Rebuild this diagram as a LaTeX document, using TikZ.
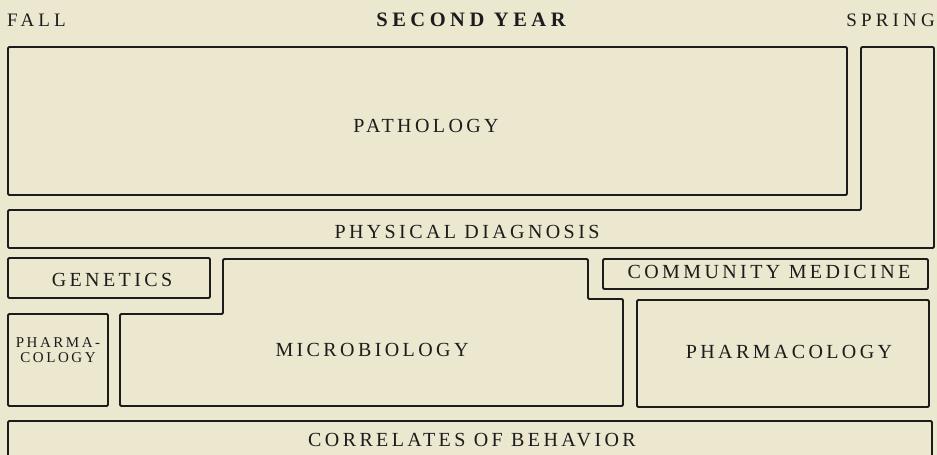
\documentclass[tikz,border=0pt]{standalone}
\usepackage{fontspec}
\setmainfont{Liberation Serif}
\newfontfamily\lbfont[LetterSpace=17]{Liberation Serif}
\newfontfamily\hdfont[LetterSpace=22]{Liberation Serif}
\definecolor{paper}{HTML}{ECE7CF}
\definecolor{ink}{HTML}{1C1C1C}
\tikzset{
  box/.style={draw=ink, line width=1.9pt, rounded corners=1.2pt},
  lbl/.style={text=ink, inner sep=0pt, font=\lbfont\fontsize{20}{22}\selectfont},
  hdr/.style={text=ink, inner sep=0pt, font=\hdfont\fontsize{19}{22}\selectfont},
}
\begin{document}
\begin{tikzpicture}[x=1pt,y=-1pt]
\fill[paper] (0,0) rectangle (937,455);
\useasboundingbox (0,0) rectangle (937,455);
\clip (0,0) rectangle (937,455);
% headers
\node[hdr, anchor=west] (fall) at (7,20) {FALL};
\node[hdr, font=\hdfont\bfseries\fontsize{20.5}{22}\selectfont] (title) at (471,20) {SECOND YEAR};
\node[hdr, anchor=east] (spring) at (935,20) {SPRING};
% boxes
\draw[box] (8,47) rectangle (847,195);
\draw[box] (8,210) -- (861,210) -- (861,47) -- (934,47) -- (934,248) -- (8,248) -- cycle;
\draw[box] (8,258) rectangle (210,298);
\draw[box] (8,314) rectangle (108,406);
\draw[box] (120,406) -- (120,314) -- (223,314) -- (223,259) -- (588,259) -- (588,299) -- (623,299) -- (623,406) -- cycle;
\draw[box] (603,259) rectangle (928,289);
\draw[box] (637,300) rectangle (929,407);
\draw[box] (8,421) rectangle (932,475);
% labels
\node[lbl] (patho) at (426,126) {PATHOLOGY};
\node[lbl] (physdx) at (467,232) {PHYSICAL DIAGNOSIS};
\node[lbl] (genet) at (112,280) {GENETICS};
\node[lbl] (commmed) at (769,272) {COMMUNITY MEDICINE};
\node[lbl] (micro) at (372,350) {MICROBIOLOGY};
\node[lbl] (pharm) at (789,352) {PHARMACOLOGY};
\node[lbl, font=\lbfont\fontsize{15}{15}\selectfont, align=center] (pharmsmall) at (58,350) {PHARMA-\\COLOGY};
\node[lbl] (correl) at (472,440) {CORRELATES OF BEHAVIOR};
\end{tikzpicture}
\end{document}
